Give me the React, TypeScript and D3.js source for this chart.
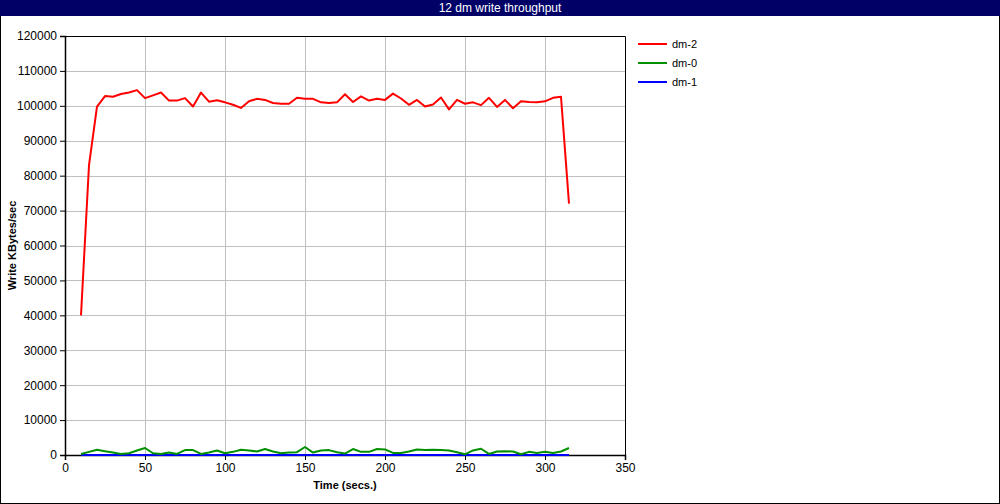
import React, { useEffect, useRef } from 'react';
import * as d3 from 'd3';

// sample times (secs), one point every 5 s
const times: number[] = d3.range(10, 316, 5);

const dm2: number[] = [
  40000, 83000, 99800, 102800, 102600, 103400, 103800, 104500, 102200, 103000,
  103800, 101500, 101500, 102200, 99800, 103800, 101200, 101600, 101000, 100300,
  99400, 101300, 102000, 101700, 100800, 100600, 100600, 102300, 102000, 102000,
  101000, 100800, 101000, 103300, 101100, 102700, 101500, 102000, 101700, 103500,
  102100, 100300, 101700, 99800, 100400, 102400, 99000, 101700, 100600, 101000,
  100200, 102300, 99700, 101700, 99300, 101300, 101100, 101000, 101300, 102300,
  102600, 72000,
];

const dm0: number[] = [
  300, 900, 1500, 1100, 700, 300, 500, 1300, 2000, 500,
  300, 700, 300, 1400, 1400, 300, 700, 1300, 500, 900,
  1500, 1300, 1000, 1700, 1000, 500, 700, 800, 2300, 700,
  1300, 1400, 800, 400, 1700, 900, 900, 1700, 1600, 600,
  600, 1000, 1600, 1400, 1500, 1400, 1300, 800, 200, 1300,
  1800, 300, 1000, 1100, 1000, 200, 900, 600, 900, 600,
  1000, 2000,
];

const dm1: number[] = times.map(() => 0);

const seriesNames = ['dm-2', 'dm-0', 'dm-1'];
const seriesColors = ['#ff0000', '#009000', '#0000ff'];
const seriesValues = [dm2, dm0, dm1];

const xTicks = [0, 50, 100, 150, 200, 250, 300, 350];
const yTicks = d3.range(0, 120001, 10000);

const Chart = () => {
  const svgRef = useRef<SVGSVGElement>(null);

  useEffect(() => {
    const W = 1000;
    const H = 504;
    const margin = { top: 36, right: 375, bottom: 49, left: 65 };
    const width = W - margin.left - margin.right;
    const height = H - margin.top - margin.bottom;
    const font = 'Liberation Sans, Arial, sans-serif';

    const root = d3.select(svgRef.current);
    root.selectAll('*').remove();
    root.attr('width', W).attr('height', H);

    // background + outer frame
    root.append('rect')
      .attr('x', 0.5).attr('y', 0.5)
      .attr('width', W - 1).attr('height', H - 1)
      .attr('fill', '#fff').attr('stroke', '#000');

    // title bar
    root.append('rect')
      .attr('x', 0).attr('y', 0)
      .attr('width', W).attr('height', 16)
      .attr('fill', '#000066');
    root.append('text')
      .attr('x', W / 2).attr('y', 12)
      .attr('text-anchor', 'middle')
      .attr('fill', '#fff')
      .style('font-family', font)
      .style('font-size', '12px')
      .text('12 dm write throughput');

    const svg = root.append('g')
      .attr('transform', `translate(${margin.left},${margin.top})`);

    const x = d3.scaleLinear().domain([0, 350]).range([0, width]);
    const y = d3.scaleLinear().domain([0, 120000]).range([height, 0]);

    // grid
    svg.append('g').selectAll('line.vx')
      .data(xTicks.slice(1, -1))
      .enter().append('line')
      .attr('x1', d => Math.round(x(d)) + 0.5).attr('x2', d => Math.round(x(d)) + 0.5)
      .attr('y1', 0).attr('y2', height)
      .attr('stroke', '#c0c0c0');
    svg.append('g').selectAll('line.hy')
      .data(yTicks.slice(1, -1))
      .enter().append('line')
      .attr('y1', d => Math.round(y(d)) + 0.5).attr('y2', d => Math.round(y(d)) + 0.5)
      .attr('x1', 0).attr('x2', width)
      .attr('stroke', '#c0c0c0');

    // plot frame (top and right)
    svg.append('path')
      .attr('d', `M0,0.5H${width + 0.5}V${height}`)
      .attr('fill', 'none').attr('stroke', '#000');

    // axes
    const xAxis = svg.append('g')
      .attr('transform', `translate(0,${height})`)
      .call(d3.axisBottom(x).tickValues(xTicks).tickSize(5).tickPadding(3).tickFormat(d3.format('d')));
    const yAxis = svg.append('g')
      .call(d3.axisLeft(y).tickValues(yTicks).tickSize(5).tickPadding(3).tickFormat(d3.format('d')));
    [xAxis, yAxis].forEach(a => {
      a.select('.domain').attr('stroke', '#000').attr('stroke-width', 1.5);
      a.selectAll('line').attr('stroke', '#000');
      a.selectAll('text')
        .attr('fill', '#000')
        .style('font-family', font)
        .style('font-size', '12px');
    });

    // series lines
    const line = d3.line<number>()
      .x((_, i) => x(times[i]))
      .y(d => y(d));
    // draw in reverse so dm-2 is on top
    [2, 1, 0].forEach(k => {
      svg.append('path')
        .datum(seriesValues[k])
        .attr('fill', 'none')
        .attr('stroke', seriesColors[k])
        .attr('stroke-width', 2)
        .attr('stroke-linejoin', 'round')
        .attr('d', line);
    });

    // axis titles
    svg.append('text')
      .attr('x', width / 2).attr('y', height + 34)
      .attr('text-anchor', 'middle')
      .style('font-family', font)
      .style('font-size', '11px')
      .style('font-weight', 'bold')
      .text('Time (secs.)');
    svg.append('text')
      .attr('transform', `translate(${-margin.left + 16},${height / 2}) rotate(-90)`)
      .attr('text-anchor', 'middle')
      .style('font-family', font)
      .style('font-size', '11px')
      .style('font-weight', 'bold')
      .text('Write KBytes/sec');

    // legend
    const legend = root.append('g').attr('transform', 'translate(638,44)');
    seriesNames.forEach((name, i) => {
      const row = legend.append('g').attr('transform', `translate(0,${i * 19})`);
      row.append('line')
        .attr('x1', 0).attr('x2', 29).attr('y1', 0).attr('y2', 0)
        .attr('stroke', seriesColors[i]).attr('stroke-width', 2);
      row.append('text')
        .attr('x', 34).attr('y', 4)
        .style('font-family', font)
        .style('font-size', '11px')
        .text(name);
    });
  }, []);

  return <svg ref={svgRef} style={{ display: 'block' }}></svg>;
};

export default function App() {
  return (
    <div style={{ position: 'absolute', left: 0, top: 0 }}>
      <Chart />
    </div>
  );
}
